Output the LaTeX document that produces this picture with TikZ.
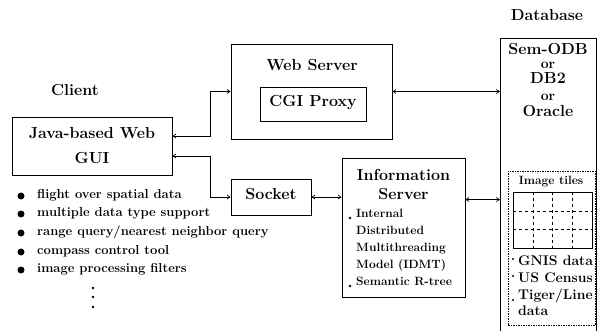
\documentclass[tikz,border=0pt]{standalone}
\usepackage{amsmath}
\usepackage{tikz}
\usetikzlibrary{arrows.meta, calc}

\begin{document}
\begin{tikzpicture}[x=1pt, y=-1pt,
    box/.style={draw, line width=0.8pt, inner sep=0pt},
    link/.style={line width=0.7pt, {Straight Barb[length=3pt,width=4pt]}-{Straight Barb[length=3pt,width=4pt]}},
    big/.style={font=\fontsize{16}{25}\selectfont\bfseries, inner sep=0pt, text height=1.6ex, text depth=0.3ex},
    twoline/.style={font=\fontsize{16}{25}\selectfont\bfseries, align=center},
    small/.style={font=\fontsize{12}{14}\selectfont\bfseries, inner sep=0pt, text height=1.6ex, text depth=0.3ex},
    orword/.style={font=\fontsize{14}{16}\selectfont\bfseries, inner sep=0pt, text height=1.6ex, text depth=0.3ex},
    feat/.style={font=\fontsize{13}{15}\selectfont\bfseries, anchor=west, inner sep=0pt, text height=1.6ex, text depth=0.3ex},
    dataitem/.style={font=\fontsize{14}{16}\selectfont\bfseries, anchor=west, inner sep=0pt, text height=1.6ex, text depth=0.3ex}
]

    % Fix the page to the size of the figure
    \useasboundingbox (0,0) rectangle (597,330);

    % Client side
    \node[big] (client) at (75,93) {Client};
    \node[box, twoline, minimum width=160pt, minimum height=58pt] (gui) at (92,146) {Java-based Web\\GUI};
    \foreach \yy/\txt [count=\i] in {196/flight over spatial data, 214/multiple data type support,
        233/{range query/nearest neighbor query}, 252/compass control tool, 270/image processing filters} {
        \fill (21,\yy) circle (3.5);
        \node[feat] (feat\i) at (37,\yy) {\txt};
    }
    \foreach \yy in {288,297,307}
        \fill (93,\yy) circle (1.3);

    % Web server and socket
    \node[box, minimum width=161pt, minimum height=95pt] (web) at (311.5,91.5) {};
    \node[big] (webtitle) at (312,68) {Web Server};
    \node[box, big, minimum width=106pt, minimum height=34pt] (cgi) at (313,104) {CGI Proxy};
    \node[box, big, minimum width=80pt, minimum height=36pt] (socket) at (271,197) {Socket};

    % Information server
    \node[box, minimum width=123pt, minimum height=139pt] (info) at (403.5,227.5) {};
    \node[big] (infotitle) at (403.5,178) {Information};
    \node[big] (infotitle2) at (403.5,197) {Server};
    \foreach \yy/\txt [count=\i] in {215/Internal, 232/Distributed, 249/Multithreading, 266/Model (IDMT), 283/Semantic R-tree}
        \node[small, anchor=west] (infoitem\i) at (356,\yy) {\txt};
    \fill (350,218) circle (1.3);
    \fill (350,286) circle (1.3);
    \coordinate (infoport) at ([yshift=28pt]info.east);

    % Database
    \node[big] (dbtitle) at (547,18) {Database};
    \node[box, anchor=north west, minimum width=96pt, minimum height=300pt] (db) at (500,38) {};
    \node[big] (sem) at (548,52) {Sem-ODB};
    \node[orword] (or1) at (548,66) {or};
    \node[big] (db2) at (548,81) {DB2};
    \node[orword] (or2) at (548,98) {or};
    \node[big] (oracle) at (548,114) {Oracle};

    % Image tiles
    \node[draw, line width=0.6pt, dash pattern=on 1.5pt off 1pt, anchor=north west,
        minimum width=87pt, minimum height=154pt, inner sep=0pt] (tiles) at (508,171) {};
    \node[small] (tilestitle) at (551,182) {Image tiles};
    \draw[line width=0.8pt] (513,192) rectangle (592,248);
    \foreach \xx in {533,552,572}
        \draw[dashed, line width=0.5pt] (\xx,192) -- (\xx,248);
    \foreach \yy in {211,229}
        \draw[dashed, line width=0.5pt] (513,\yy) -- (592,\yy);
    \foreach \yy/\txt [count=\i] in {263/GNIS data, 280/US Census, 297/{Tiger/Line}, 313/data}
        \node[dataitem] (dataitem\i) at (518,\yy) {\txt};
    \foreach \yy in {259,276,300}
        \fill (513,\yy) circle (1.2);

    % Connections
    \draw[link] ([yshift=10pt]gui.east) -- ++(38,0) |- (web.west);
    \draw[link] ([yshift=-10pt]gui.east) -- ++(38,0) |- (socket.west);
    \draw[link] (socket.east) -- (info.west |- socket.east);
    \draw[link] (web.east) -- (db.west |- web.east);
    \draw[link] (infoport) -- (db.west |- infoport);

\end{tikzpicture}
\end{document}
